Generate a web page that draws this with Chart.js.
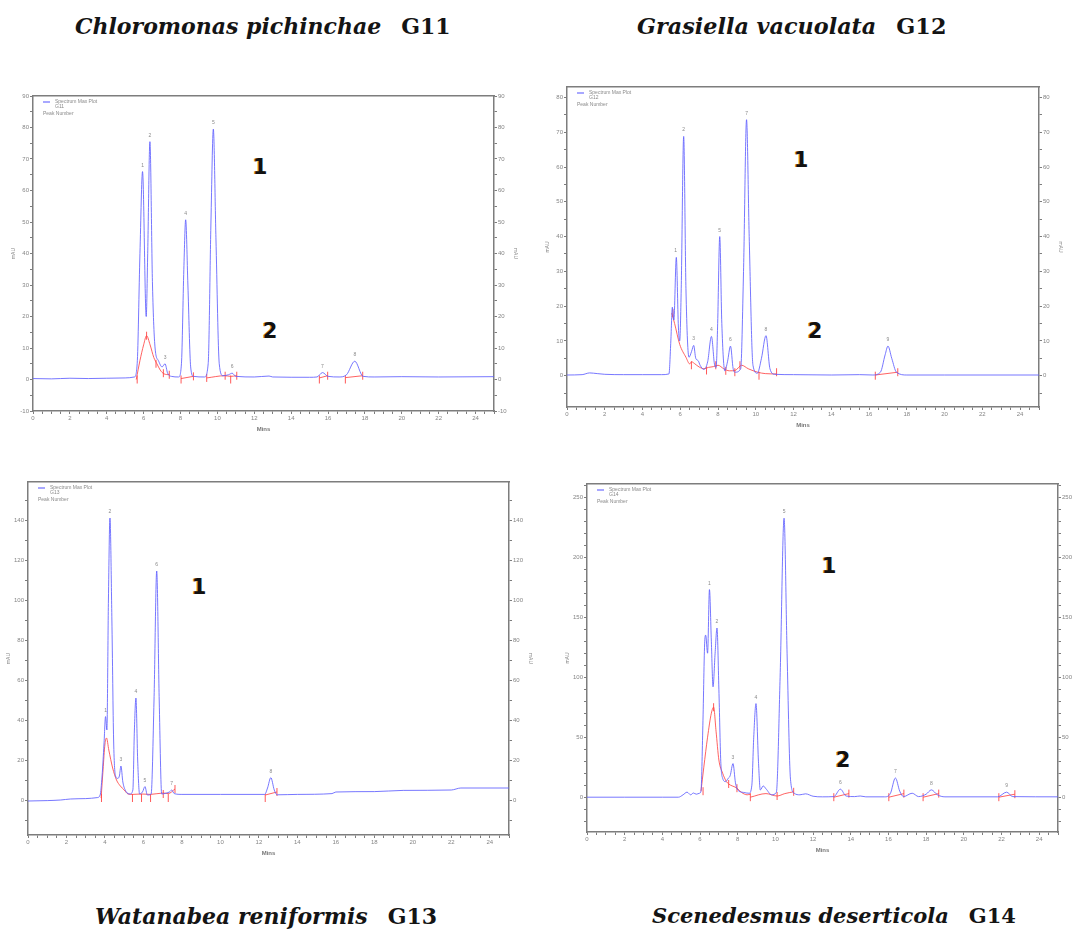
<!DOCTYPE html>
<html lang="en">
<head>
<meta charset="UTF-8">
<title>HPLC chromatograms G11-G14</title>
<script src="https://cdn.jsdelivr.net/npm/chart.js"></script>
<style>
  body {
    margin: 0;
    width: 1073px;
    height: 934px;
    overflow: hidden;
    position: relative;
    background: #fff;
  }
  canvas { position: absolute; }
  .title {
    position: absolute;
    font-family: "DejaVu Serif", serif;
    font-size: 22px;
    line-height: 22px;
    font-weight: bold;
    white-space: nowrap;
    color: #141414;
  }
  .title i { margin-right: 20px; }
  .mark {
    position: absolute;
    transform: translate(-50%, -50%);
    font-family: "DejaVu Sans", sans-serif;
    font-weight: bold;
    font-size: 21px;
    color: #111;
    text-shadow: -1px 0 #d08a20;
  }
</style>
</head>
<body>

<div class="title" style="left:75px; top:15px"><i>Chloromonas pichinchae</i>G11</div>
<div class="title" style="left:637px; top:15px; font-size:22.3px"><i>Grasiella vacuolata</i>G12</div>
<div class="title" style="left:95px; top:905px"><i>Watanabea reniformis</i>G13</div>
<div class="title" style="left:652px; top:905px; font-size:21px"><i>Scenedesmus deserticola</i>G14</div>

<div class="mark" style="left:260px; top:167px">1</div>
<div class="mark" style="left:270px; top:331px">2</div>
<div class="mark" style="left:801px; top:160px">1</div>
<div class="mark" style="left:815px; top:331px">2</div>
<div class="mark" style="left:199px; top:587px">1</div>
<div class="mark" style="left:829px; top:566px">1</div>
<div class="mark" style="left:843px; top:760px">2</div>

<script>
// time (min) / mAU pairs
// [t, null] breaks the red peak-function line

// G11 Chloromonas pichinchae
var g11Blue = [[0,0.3],[1,0.2],[2,0.4],[3,0.3],[4,0.4],[5,0.5],[5.5,0.8],[5.65,5],[5.8,40],[5.94,66],[6.14,20],
  [6.22,40],[6.34,75.5],[6.48,30],[6.62,10],[6.8,6],[7.0,4],[7.16,5],[7.3,2],[7.5,1],[7.9,0.8],[8.05,5],[8.18,35],
  [8.28,50.7],[8.4,30],[8.55,4],[8.7,1],[9.3,0.8],[9.5,5],[9.65,50],[9.78,79.5],[9.92,45],[10.1,5],[10.3,1.2],
  [10.6,1.5],[10.8,2],[11.0,1],[12,0.8],[12.8,1.1],[13,0.8],[15,0.7],[15.4,0.8],[15.7,2.2],[16.0,1],[16.6,0.8],
  [17.0,1.5],[17.45,5.8],[17.9,1],[18.5,0.8],[20,0.9],[22,0.8],[25,0.9]];
var g11Red = [[5.6,0],[5.8,6],[6.0,11],[6.16,13.9],[6.35,11],[6.55,7],[6.72,5],[6.9,3],[7.1,1.8],[7.4,1.5],[7.45,null],
  [8.03,0.3],[8.7,1],[8.75,null],[9.42,0.5],[10.4,1.2],[10.72,1],[11.05,1.2],[11.1,null],
  [15.53,0.5],[15.98,1.2],[16.1,null],[16.94,0.6],[17.88,1.2]];
var g11Cuts = [[5.65,0],[6.16,13.9],[6.67,5],[7.07,2],[7.39,1.5],[8.03,0],[8.7,1],[9.42,0.5],[10.42,1.2],[10.72,0],
  [11.05,1.2],[15.53,0],[15.98,1.2],[16.94,0],[17.88,1.2]];
var g11Peaks = [[5.94,66],[6.34,75.5],[7.16,5],[8.28,50.7],[9.78,79.5],[10.8,2],[15.7,2.2],[17.45,5.8]];

// G12 Grasiella vacuolata
var g12Blue = [[0,0.2],[0.8,0.3],[1.2,0.8],[1.6,0.6],[2,0.4],[3,0.3],[4,0.3],[5,0.3],[5.4,0.5],[5.5,10],[5.58,19.7],
  [5.66,16],[5.79,34],[5.9,14],[5.97,10],[6.05,25],[6.18,68.8],[6.3,25],[6.46,5.3],[6.6,7],[6.71,8.7],[6.82,5],
  [6.95,4.3],[7.05,3],[7.25,1.8],[7.45,4],[7.65,11.3],[7.82,3],[7.9,2.4],[7.98,15],[8.09,40],[8.2,15],[8.36,1.4],
  [8.5,4],[8.66,8.5],[8.8,2],[8.9,1],[9.2,2],[9.35,30],[9.51,73.6],[9.65,40],[9.85,3],[10.08,0.7],[10.3,5],
  [10.54,11.5],[10.75,2],[11,0.4],[12,0.3],[14,0.2],[15.5,0.3],[16.2,0.2],[16.6,1],[16.85,6],[17.0,8.5],
  [17.2,5],[17.45,1],[18,0.2],[20,0.2],[25,0.2]];
var g12Red = [[5.55,18],[5.7,15],[5.97,9],[6.3,5.3],[6.5,3.4],[6.6,4],[6.75,3.5],[7.0,2.5],[7.25,2],[7.5,2.4],
  [7.75,2.6],[8.0,3],[8.3,2],[8.6,1.4],[8.9,1.5],[9.25,3],[9.6,2],[10.1,1],[10.5,0.6],[11.1,0.5],[11.2,null],
  [16.33,0.2],[17.52,1]];
var g12Cuts = [[5.61,18],[6.59,3],[7.39,1.5],[7.88,3],[8.41,1.4],[8.89,1],[9.16,3],[10.17,0],[11.1,1],[16.33,0],[17.52,1]];
var g12Peaks = [[5.76,34],[6.18,68.8],[6.71,8.7],[7.65,11.3],[8.09,40],[8.66,8.5],[9.51,73.6],[10.54,11.5],[17.0,8.5]];

// G13 Watanabea reniformis
var g13Blue = [[0,-0.5],[1,-0.3],[1.7,0],[2.2,0.5],[3,0.7],[3.6,1.2],[3.75,2.5],[3.85,12],[3.95,28],[4.03,41.7],
  [4.1,35],[4.18,100],[4.26,141],[4.36,90],[4.45,30],[4.55,12],[4.65,10.8],[4.75,12],[4.83,17],[4.93,9],[5.1,4.2],
  [5.3,3],[5.45,5],[5.53,35],[5.61,51],[5.7,20],[5.8,3],[5.95,4],[6.08,6.7],[6.2,2.5],[6.4,3],[6.55,50],
  [6.69,114.5],[6.82,50],[6.95,3],[7.2,3.5],[7.35,4],[7.47,5],[7.6,3.2],[8,2.8],[10,2.8],[12.3,2.8],[12.45,6],
  [12.62,11.2],[12.8,5],[12.95,2.6],[14,2.8],[15.8,3.2],[16,4],[18,4.2],[19.5,4.8],[22,5],[22.5,6],[25,6]];
var g13Red = [[3.8,1],[3.9,15],[4.0,28],[4.08,31],[4.2,25],[4.4,16],[4.6,10],[4.8,7],[5.0,5],[5.2,3],[5.43,2.8],
  [5.9,3],[6.37,2.8],[7.03,3.5],[7.29,3.2],[7.64,5.5],[7.7,null],[12.33,2.5],[12.94,4]];
var g13Cuts = [[3.82,1],[5.43,1],[5.9,1],[6.37,1],[7.03,3],[7.29,1],[7.64,5.5],[12.33,1],[12.94,4]];
var g13Peaks = [[4.03,41.7],[4.26,141],[4.83,17],[5.61,51],[6.08,6.7],[6.69,114.5],[7.47,5],[12.62,11.2]];

// G14 Scenedesmus deserticola
var g14Blue = [[0,0],[2,0],[4,0],[4.85,0],[5.1,2],[5.31,4.2],[5.5,2],[5.65,3.5],[5.8,2.5],[5.97,3.3],[6.05,5],
  [6.15,60],[6.25,130],[6.3,135],[6.4,120],[6.5,173],[6.6,130],[6.69,92],[6.8,120],[6.9,141],[7.0,90],[7.1,30],
  [7.2,15.8],[7.35,13],[7.5,15.8],[7.6,18],[7.75,28],[7.88,12],[8.0,6],[8.3,4],[8.6,3.3],[8.75,10],[8.85,50],
  [8.97,78],[9.1,30],[9.2,6],[9.35,9.4],[9.5,7],[9.8,2],[10.05,4],[10.25,100],[10.46,232.5],[10.62,120],[10.8,15],
  [11.0,3.3],[11.3,2],[11.6,2.8],[12,0.8],[12.5,0.3],[13.1,0.5],[13.45,6.7],[13.75,1],[14.2,0.5],[14.5,1],
  [14.8,0.3],[15.8,0.3],[16.1,3],[16.37,16],[16.6,5],[16.8,0.5],[17.26,3.3],[17.6,0.5],[18.0,2.5],[18.28,6.1],
  [18.6,2],[19,0.3],[21.8,0.3],[22.27,4.2],[22.6,0.5],[25,0.3]];
var g14Red = [[6.05,5],[6.2,25],[6.4,50],[6.6,70],[6.72,75],[6.85,55],[7.0,31],[7.2,20],[7.4,13],[7.52,11],[7.96,7.5],
  [8.2,4],[8.5,2],[8.67,2.5],[8.7,null],[8.67,0],[9.5,3],[10.09,1],[10.5,3],[10.97,4.5],[11.0,null],
  [13.1,0],[13.9,3],[14.0,null],[16.02,0],[16.82,3],[16.9,null],[17.84,0],[18.67,3],[18.7,null],[21.86,0],[22.71,2.5]];
var g14Cuts = [[6.16,5],[6.72,75],[7.52,11],[7.96,7.5],[8.67,0],[10.09,1],[10.97,4.5],[13.1,0],[13.9,3],
  [16.02,0],[16.82,3],[17.84,0],[18.67,3],[21.86,0],[22.71,2.5]];
var g14Peaks = [[6.5,173],[6.9,141],[7.75,28],[8.97,78],[10.46,232.5],[13.45,6.7],[16.37,16],[18.28,6.1],[22.27,4.2]];

var axisColor = '#7d7d7d';
var labelColor = '#858585';

function pts(arr) {
  return arr.map(function(p) { return {x: p[0], y: p[1]}; });
}

// peak numbers and the small legend inside the plot
var peakTags = {
  id: 'peakTags',
  afterDatasetsDraw: function(chart, args, opts) {
    var ctx = chart.ctx, xs = chart.scales.x, ys = chart.scales.y, a = chart.chartArea;
    ctx.save();
    ctx.font = '5px Arial';
    ctx.fillStyle = '#8a8a8a';
    ctx.textAlign = 'center';
    opts.peaks.forEach(function(p, i) {
      ctx.fillText(String(i + 1), xs.getPixelForValue(p[0]), ys.getPixelForValue(p[1]) - 5);
    });
    ctx.textAlign = 'left';
    ctx.strokeStyle = '#6f6fff';
    ctx.lineWidth = 1.2;
    ctx.beginPath();
    ctx.moveTo(a.left + 10, a.top + 6);
    ctx.lineTo(a.left + 17, a.top + 6);
    ctx.stroke();
    ctx.fillText('Spectrum Max Plot', a.left + 22, a.top + 7);
    ctx.fillText(opts.tag, a.left + 22, a.top + 12);
    ctx.fillText('Peak Number', a.left + 10, a.top + 19);
    ctx.restore();
  }
};

function yAxis(pos, min, max, step, every, w) {
  return {
    type: 'linear', position: pos, min: min, max: max,
    ticks: {
      autoSkip: false, padding: 1, color: labelColor,
      font: {size: 6, family: 'Arial'},
      callback: function(v) { return v % every === 0 ? String(v) : ''; }
    },
    // ruler ticks at every multiple of the minor step
    afterBuildTicks: function(s) {
      var list = [];
      for (var v = Math.ceil(min / step) * step; v <= max; v += step) list.push({value: v});
      s.ticks = list;
    },
    grid: {drawOnChartArea: false, tickLength: 3, color: axisColor},
    border: {display: true, color: axisColor, width: 1.5},
    title: {display: true, text: 'mAU', color: labelColor, font: {size: 5, family: 'Arial'}, padding: 0},
    afterFit: function(s) { s.width = w; }
  };
}

function makePanel(box, yMin, yMax, yStep, yEvery, blue, red, cuts, peaks, tag) {
  var left = 22, right = 24, top = 6, bottom = 22;
  var cv = document.createElement('canvas');
  cv.width = box.R - box.L + left + right;
  cv.height = box.B - box.T + top + bottom;
  cv.style.left = (box.L - left) + 'px';
  cv.style.top = (box.T - top) + 'px';
  document.body.appendChild(cv);

  new Chart(cv.getContext('2d'), {
    type: 'line',
    data: {
      datasets: [{
        data: pts(blue), borderColor: 'rgba(95,95,255,0.85)', borderWidth: 1,
        pointRadius: 0, cubicInterpolationMode: 'monotone'
      }, {
        data: pts(red), borderColor: 'rgba(255,70,70,0.85)', borderWidth: 1,
        pointRadius: 0, cubicInterpolationMode: 'monotone', spanGaps: false
      }, {
        data: pts(cuts), showLine: false, pointStyle: 'line', rotation: 90,
        pointRadius: 4, pointBorderColor: 'rgba(255,70,70,0.9)', pointBorderWidth: 1
      }]
    },
    options: {
      responsive: false,
      animation: false,
      layout: {padding: {top: top, left: 0, right: 0, bottom: 0}},
      plugins: {
        legend: {display: false},
        tooltip: {enabled: false},
        peakTags: {peaks: peaks, tag: tag}
      },
      scales: {
        x: {
          type: 'linear', position: 'bottom', min: 0, max: 25,
          ticks: {
            stepSize: 0.5, autoSkip: false, maxRotation: 0, padding: 1, color: labelColor,
            font: {size: 6, family: 'Arial'},
            callback: function(v) { return v % 2 === 0 ? String(v) : ''; }
          },
          grid: {drawOnChartArea: false, tickLength: 3, color: axisColor},
          border: {display: true, color: axisColor, width: 1.5},
          title: {display: true, text: 'Mins', color: '#777', font: {size: 6, weight: 'bold', family: 'Arial'}, padding: 0},
          afterFit: function(s) { s.height = bottom; }
        },
        xTop: {
          type: 'linear', position: 'top', min: 0, max: 25,
          ticks: {display: false},
          grid: {drawOnChartArea: false, drawTicks: false},
          border: {display: true, color: axisColor, width: 1.5},
          afterFit: function(s) { s.height = 0; }
        },
        y: yAxis('left', yMin, yMax, yStep, yEvery, left),
        yRight: yAxis('right', yMin, yMax, yStep, yEvery, right)
      }
    },
    plugins: [peakTags]
  });
}

makePanel({L: 33, T: 96, R: 494, B: 411}, -10, 90, 5, 10, g11Blue, g11Red, g11Cuts, g11Peaks, 'G11');
makePanel({L: 567, T: 87, R: 1039, B: 407}, -9, 83, 5, 10, g12Blue, g12Red, g12Cuts, g12Peaks, 'G12');
makePanel({L: 28, T: 482, R: 509, B: 835}, -17.5, 159, 10, 20, g13Blue, g13Red, g13Cuts, g13Peaks, 'G13');
makePanel({L: 587, T: 484, R: 1058, B: 832}, -29, 261, 10, 50, g14Blue, g14Red, g14Cuts, g14Peaks, 'G14');
</script>
</body>
</html>
